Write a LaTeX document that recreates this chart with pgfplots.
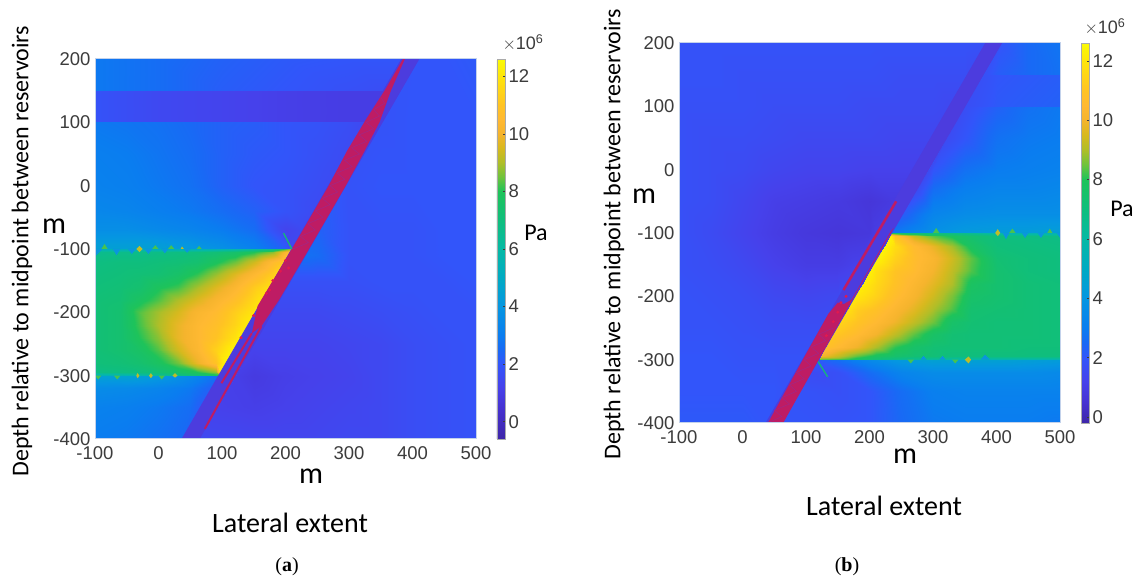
\documentclass[border=0pt]{standalone}
\usepackage{pgfplots}
\pgfplotsset{compat=1.18}
\usepackage{fontspec}
\setmainfont{Liberation Sans}
\newfontfamily\calf{Carlito}
\newfontfamily\serf{Liberation Serif}
\definecolor{tk}{RGB}{60,60,60}
\definecolor{bandc}{RGB}{76,60,222}
\definecolor{bgb}{RGB}{50,85,250}
\definecolor{redc}{RGB}{190,28,100}
\definecolor{redd}{RGB}{160,40,135}
\definecolor{grn}{RGB}{20,185,120}
\definecolor{tg}{RGB}{70,195,80}
\definecolor{ty}{RGB}{190,190,40}
\definecolor{tb}{RGB}{10,150,220}
\pgfplotsset{
 colormap={pa}{rgb255(0)=(62,38,168) rgb255(110)=(70,50,210) rgb255(180)=(70,65,235) rgb255(260)=(50,85,250) rgb255(310)=(25,105,245) rgb255(360)=(10,125,240) rgb255(460)=(5,150,225) rgb255(560)=(0,170,195) rgb255(660)=(5,185,165) rgb255(760)=(15,190,125) rgb255(860)=(30,195,90) rgb255(910)=(110,195,60) rgb255(960)=(175,190,40) rgb255(1010)=(215,185,30) rgb255(1060)=(245,180,45) rgb255(1110)=(255,185,50) rgb255(1160)=(255,195,35) rgb255(1260)=(255,230,10) rgb255(1320)=(250,250,5)},
 colormap={pb}{rgb255(0)=(62,38,168) rgb255(70)=(70,50,210) rgb255(140)=(70,65,235) rgb255(220)=(50,85,250) rgb255(270)=(25,105,245) rgb255(320)=(10,125,240) rgb255(420)=(5,150,225) rgb255(520)=(0,170,195) rgb255(620)=(5,185,165) rgb255(720)=(15,190,125) rgb255(820)=(30,195,90) rgb255(870)=(110,195,60) rgb255(920)=(175,190,40) rgb255(970)=(215,185,30) rgb255(1020)=(245,180,45) rgb255(1070)=(255,185,50) rgb255(1120)=(255,195,35) rgb255(1220)=(255,230,10) rgb255(1280)=(250,250,5)},
 fld/.style={surf,shader=interp,point meta=\thisrowno{2},mesh/cols=#1},
 table/tab/.style={row sep=\\,header=false},
 main/.style={
  scale only axis,width=381pt,height=380pt,
  xmin=-100,xmax=500,ymin=-400,ymax=200,
  xtick={-100,0,...,500},ytick={-400,-300,...,200},
  /pgf/number format/assume math mode=true,
  tick style={draw=none},
  axis line style={draw={rgb,255:red,195;green,210;blue,235},line width=1pt},
  axis on top,
  tick label style={font=\fontsize{18.5}{20}\selectfont,text=tk},
  xticklabel style={yshift=-4pt},
  yticklabel style={xshift=-1pt},
  colorbar,
  colorbar style={
   at={(1.0551,0)},anchor=south west,width=8pt,
   ytick={0,2,...,12},
   ytick style={draw=tk,line width=0.5pt},
   major tick length=2pt,
   tick align=inside,
   axis line style={draw={rgb,255:red,170;green,170;blue,170},line width=0.5pt},
   /pgf/number format/assume math mode=true,
   yticklabel style={font=\fontsize{18.5}{20}\selectfont,text=tk,xshift=0pt},
   ytick pos=right,
  },
 },
}
\begin{document}
\begin{tikzpicture}[x=1pt,y=1pt]
\path[use as bounding box,fill=white] (0,0) rectangle (1137,580);
% ---------------- panel a
\begin{axis}[main,at={(95pt,141pt)},anchor=south west,colormap name=pa,point meta min=-0.6,point meta max=12.6]
\addplot[draw=none,fill=bgb] coordinates {(-100,-400) (500,-400) (500,200) (-100,200) (-100,-400)};
% top strip
\addplot[fld=6] table[tab] {-100 150 2.9\\0 150 2.6\\100 150 2.2\\200 150 2.0\\300 150 1.8\\354 150 1.7\\-100 200 2.9\\0 200 2.6\\100 200 2.3\\200 200 2.1\\300 200 2.0\\383 200 2.0\\};
\addplot[fld=6] table[tab] {-100 100 1.9\\0 100 1.5\\100 100 1.3\\200 100 1.1\\300 100 1.0\\325 100 1.0\\-100 150 1.9\\0 150 1.5\\100 150 1.3\\200 150 1.1\\300 150 1.0\\354 150 1.0\\};
% above reservoir
\addplot[fld=10] table[tab] {
-100 -100 4.5\\-50 -100 4.5\\0 -100 4.5\\50 -100 4.2\\100 -100 3.8\\150 -100 3.2\\200 -100 2.2\\210 -100 1.5\\210 -100 1.5\\210 -100 1.5\\
-100 -70 3.7\\-50 -70 3.7\\0 -70 3.5\\50 -70 3.3\\100 -70 3.0\\150 -70 2.6\\200 -70 1.3\\227 -70 1.5\\227 -70 1.5\\227 -70 1.5\\
-100 -40 3.4\\-50 -40 3.3\\0 -40 3.1\\50 -40 2.9\\100 -40 2.6\\150 -40 2.3\\200 -40 1.9\\245 -40 1.6\\245 -40 1.6\\245 -40 1.6\\
-100 0 3.2\\-50 0 3.1\\0 0 2.9\\50 0 2.7\\100 0 2.3\\150 0 2.0\\200 0 1.9\\250 0 1.7\\268 0 1.6\\268 0 1.6\\
-100 50 3.1\\-50 50 3.0\\0 50 2.8\\50 50 2.6\\100 50 2.3\\150 50 2.1\\200 50 2.0\\250 50 1.8\\297 50 1.6\\297 50 1.6\\
-100 100 2.9\\-50 100 2.8\\0 100 2.7\\50 100 2.5\\100 100 2.3\\150 100 2.2\\200 100 2.0\\250 100 1.9\\300 100 1.7\\325 100 1.5\\};
% reservoir
\addplot[fld=11] table[tab] {
-100 -300 5\\-60 -300 5.2\\-30 -300 5.5\\0 -300 6\\30 -300 6.5\\60 -300 7\\90 -300 7.5\\95 -300 7.8\\95 -300 7.8\\95 -300 7.8\\95 -300 7.8\\
-100 -295 6.8\\-60 -295 6.9\\-30 -295 7\\0 -295 7.2\\30 -295 7.6\\60 -295 8\\90 -295 8.8\\98 -295 12.4\\98 -295 12.4\\98 -295 12.4\\98 -295 12.4\\
-100 -280 7.1\\-60 -280 7.2\\-30 -280 7.4\\0 -280 7.8\\30 -280 8.5\\60 -280 9.8\\90 -280 11\\106 -280 12.4\\106 -280 12.4\\106 -280 12.4\\106 -280 12.4\\
-100 -260 7.2\\-60 -260 7.4\\-30 -260 7.7\\0 -260 8.3\\30 -260 9.4\\60 -260 10.3\\90 -260 11.4\\118 -260 12.4\\118 -260 12.4\\118 -260 12.4\\118 -260 12.4\\
-100 -240 7.2\\-60 -240 7.4\\-30 -240 8.0\\0 -240 8.7\\30 -240 9.8\\60 -240 10.4\\90 -240 11\\120 -240 11.9\\129 -240 12.3\\129 -240 12.3\\129 -240 12.3\\
-100 -220 7.2\\-60 -220 7.4\\-30 -220 8.2\\0 -220 9\\30 -220 9.8\\60 -220 10.4\\90 -220 10.8\\120 -220 11.5\\141 -220 12.2\\141 -220 12.2\\141 -220 12.2\\
-100 -200 7.2\\-60 -200 7.4\\-30 -200 8.3\\0 -200 8.9\\30 -200 9.5\\60 -200 10.2\\90 -200 10.6\\120 -200 11.3\\150 -200 12\\152 -200 12.1\\152 -200 12.1\\
-100 -180 7.2\\-60 -180 7.3\\-30 -180 7.8\\0 -180 8.3\\30 -180 9\\60 -180 9.6\\90 -180 10.2\\120 -180 10.8\\150 -180 11.6\\163 -180 12\\163 -180 12\\
-100 -160 7.1\\-60 -160 7.2\\-30 -160 7.4\\0 -160 7.9\\30 -160 8.2\\60 -160 8.9\\90 -160 9.6\\120 -160 10.3\\150 -160 11.2\\175 -160 11.8\\175 -160 11.8\\
-100 -140 7\\-60 -140 7.1\\-30 -140 7.2\\0 -140 7.3\\30 -140 7.6\\60 -140 8.1\\90 -140 8.8\\120 -140 9.6\\150 -140 10.4\\180 -140 11.3\\187 -140 11.6\\
-100 -120 6.9\\-60 -120 7\\-30 -120 7\\0 -120 7.1\\30 -120 7.2\\60 -120 7.4\\90 -120 7.9\\120 -120 8.5\\150 -120 9.4\\180 -120 10.6\\198 -120 11.2\\
-100 -105 6.6\\-60 -105 6.7\\-30 -105 6.7\\0 -105 6.8\\30 -105 6.9\\60 -105 7\\90 -105 7.2\\120 -105 7.5\\150 -105 8\\180 -105 8.7\\207 -105 10.8\\
-100 -100 5.3\\-60 -100 5.3\\-30 -100 5.3\\0 -100 5.3\\30 -100 5.3\\60 -100 5.4\\90 -100 5.5\\120 -100 5.8\\150 -100 6.2\\180 -100 6.8\\210 -100 9\\};
% below reservoir
\addplot[fld=5] table[tab] {
-100 -400 3.0\\-50 -400 2.9\\0 -400 2.7\\37 -400 2.5\\37 -400 2.5\\
-100 -350 3.2\\-50 -350 3.1\\0 -350 2.9\\50 -350 2.6\\66 -350 2.2\\
-100 -320 3.6\\-50 -320 3.5\\0 -320 3.3\\50 -320 2.9\\83 -320 2.3\\
-100 -300 4.5\\-50 -300 4.6\\0 -300 4.2\\50 -300 3.5\\95 -300 2.6\\};
% right of the fault
\addplot[fld=9] table[tab] {
64 -400 1.5\\150 -400 1.4\\200 -400 1.4\\250 -400 1.4\\300 -400 1.5\\350 -400 1.5\\400 -400 1.7\\450 -400 1.8\\500 -400 1.9\\
93 -350 1.2\\150 -350 1.1\\200 -350 1.2\\250 -350 1.3\\300 -350 1.4\\350 -350 1.5\\400 -350 1.7\\450 -350 1.8\\500 -350 1.9\\
122 -300 1.1\\150 -300 0.9\\200 -300 1.1\\250 -300 1.2\\300 -300 1.3\\350 -300 1.5\\400 -300 1.7\\450 -300 1.8\\500 -300 1.9\\
150 -250 1.3\\150 -250 1.3\\200 -250 1.3\\250 -250 1.3\\300 -250 1.4\\350 -250 1.5\\400 -250 1.7\\450 -250 1.8\\500 -250 1.9\\
179 -200 1.5\\179 -200 1.5\\200 -200 1.5\\250 -200 1.5\\300 -200 1.6\\350 -200 1.7\\400 -200 1.8\\450 -200 1.9\\500 -200 1.9\\
208 -150 1.8\\208 -150 1.8\\208 -150 1.8\\250 -150 1.8\\300 -150 1.8\\350 -150 1.9\\400 -150 1.9\\450 -150 1.9\\500 -150 2\\
231 -110 2.7\\231 -110 2.7\\231 -110 2.7\\250 -110 2.6\\300 -110 1.9\\350 -110 1.9\\400 -110 1.9\\450 -110 2\\500 -110 2\\
254 -70 2.3\\254 -70 2.3\\254 -70 2.3\\254 -70 2.3\\300 -70 1.9\\350 -70 1.9\\400 -70 1.9\\450 -70 2\\500 -70 2\\
295 0 1.9\\295 0 1.9\\295 0 1.9\\295 0 1.9\\300 0 1.9\\350 0 2\\400 0 2\\450 0 2\\500 0 2\\
352 100 1.9\\352 100 1.9\\352 100 1.9\\352 100 1.9\\352 100 1.9\\352 100 1.9\\400 100 2\\450 100 2\\500 100 2\\
410 200 2\\410 200 2\\410 200 2\\410 200 2\\410 200 2\\410 200 2\\410 200 2\\450 200 2\\500 200 2.1\\};
% fault band
\addplot[draw=bandc,line width=0.8pt,fill=bandc] coordinates {(37,-400) (64,-400) (410,200) (383,200) (37,-400)};
% damage zone
\addplot[draw=none,fill=redc] coordinates {(385,200) (388,200) (366,150) (348,100) (322,50) (295,0) (237,-100) (190,-180) (162,-222) (147,-233) (156,-190) (210,-100) (268,0) (297,55) (327,105) (356,150) (385,200)};
\addplot[redd,line width=0.5pt] coordinates {(212,-100) (236,-90) (223.5,-80) (247,-70) (235,-60) (259,-50) (247,-40) (270,-30) (258,-20) (282,-10) (270,0) (293.5,10) (281,20) (305,30) (293,40) (316.5,50) (304,60) (328,70) (316,80) (339,90) (327,100) (348,110) (339,120) (356,130) (350,140)};
\addplot[redc,line width=2pt] coordinates {(99,-312) (147,-233)};
\addplot[redc,line width=2pt] coordinates {(73,-384) (162,-222)};
\addplot[only marks,mark=*,mark size=1.3pt,color={rgb,255:red,225;green,25;blue,80}] coordinates {(200,-118) (192,-135) (180,-150) (170,-170) (150,-205) (130,-240) (175,-165) (205,-130)};
% stress-path tick
\addplot[grn,line width=1.3pt] coordinates {(197,-75) (210,-100)};
% teeth on the reservoir edges
\addplot[draw=none,fill=tb,unbounded coords=jump] coordinates {(-100,-100) (-100,-112) (-88,-100) (nan,nan) (-72,-100) (-66,-110) (-60,-100) (nan,nan) (-48,-100) (-42,-108) (-36,-100) (nan,nan) (-22,-100) (-16,-108) (-10,-100) (nan,nan) (5,-100) (10,-107) (15,-100) (nan,nan) (40,-100) (45,-106) (50,-100)};
\addplot[draw=none,fill=tg,unbounded coords=jump] coordinates {(-90,-100) (-85,-92) (-80,-100) (nan,nan) (-10,-100) (-5,-94) (0,-100) (nan,nan) (15,-100) (20,-94) (25,-100) (nan,nan) (60,-100) (64,-95) (68,-100) (nan,nan) (-100,-300) (-95,-306) (-90,-300) (nan,nan) (-70,-300) (-65,-306) (-60,-300) (nan,nan) (0,-300) (5,-306) (10,-300)};
\addplot[draw=none,fill=ty,unbounded coords=jump] coordinates {(-35,-100) (-30,-95) (-25,-100) (-30,-105) (-35,-100) (nan,nan) (35,-100) (37,-96) (40,-100) (nan,nan) (-35,-300) (-33,-296) (-30,-300) (-33,-304) (-35,-300) (nan,nan) (-15,-300) (-12,-296) (-9,-300) (-12,-304) (-15,-300) (nan,nan) (22,-300) (26,-296) (30,-300) (26,-303) (22,-300)};
\end{axis}
% ---------------- panel b
\begin{axis}[main,at={(679pt,157pt)},anchor=south west,colormap name=pb,point meta min=-0.2,point meta max=12.6]
\addplot[draw=none,fill=bgb] coordinates {(-100,-400) (500,-400) (500,200) (-100,200) (-100,-400)};
% left of the fault
\addplot[fld=11] table[tab] {
-100 -400 2.1\\-50 -400 2.1\\0 -400 2.1\\37 -400 2.0\\37 -400 2.0\\37 -400 2.0\\37 -400 2.0\\37 -400 2.0\\37 -400 2.0\\37 -400 2.0\\37 -400 2.0\\
-100 -350 2.0\\-50 -350 2.0\\0 -350 2.0\\50 -350 2.0\\66 -350 1.9\\66 -350 1.9\\66 -350 1.9\\66 -350 1.9\\66 -350 1.9\\66 -350 1.9\\66 -350 1.9\\
-100 -300 2\\-50 -300 2\\0 -300 1.9\\50 -300 1.9\\95 -300 1.9\\95 -300 1.9\\95 -300 1.9\\95 -300 1.9\\95 -300 1.9\\95 -300 1.9\\95 -300 1.9\\
-100 -250 1.9\\-50 -250 1.9\\0 -250 1.8\\50 -250 1.7\\100 -250 1.7\\123 -250 1.7\\123 -250 1.7\\123 -250 1.7\\123 -250 1.7\\123 -250 1.7\\123 -250 1.7\\
-100 -200 1.9\\-50 -200 1.8\\0 -200 1.7\\50 -200 1.5\\100 -200 1.4\\150 -200 1.5\\152 -200 1.6\\152 -200 1.6\\152 -200 1.6\\152 -200 1.6\\152 -200 1.6\\
-100 -150 1.8\\-50 -150 1.7\\0 -150 1.5\\50 -150 1.2\\100 -150 1.0\\150 -150 1.0\\181 -150 1.2\\181 -150 1.2\\181 -150 1.2\\181 -150 1.2\\181 -150 1.2\\
-100 -100 1.8\\-50 -100 1.6\\0 -100 1.3\\50 -100 1.0\\100 -100 0.8\\150 -100 0.7\\200 -100 0.8\\210 -100 1.0\\210 -100 1.0\\210 -100 1.0\\210 -100 1.0\\
-100 -50 1.8\\-50 -50 1.7\\0 -50 1.4\\50 -50 1.1\\100 -50 1.0\\150 -50 0.9\\200 -50 0.7\\239 -50 0.9\\239 -50 0.9\\239 -50 0.9\\239 -50 0.9\\
-100 0 1.8\\-50 0 1.7\\0 0 1.6\\50 0 1.4\\100 0 1.3\\150 0 1.3\\200 0 1.2\\250 0 1.2\\268 0 1.2\\268 0 1.2\\268 0 1.2\\
-100 50 1.8\\-50 50 1.7\\0 50 1.7\\50 50 1.6\\100 50 1.5\\150 50 1.5\\200 50 1.5\\250 50 1.4\\297 50 1.4\\297 50 1.4\\297 50 1.4\\
-100 100 1.8\\-50 100 1.8\\0 100 1.8\\50 100 1.7\\100 100 1.7\\150 100 1.7\\200 100 1.6\\250 100 1.6\\300 100 1.6\\326 100 1.5\\326 100 1.5\\
-100 150 1.9\\-50 150 1.9\\0 150 1.8\\50 150 1.8\\100 150 1.8\\150 150 1.8\\200 150 1.8\\250 150 1.7\\300 150 1.7\\350 150 1.7\\355 150 1.6\\
-100 200 1.9\\-50 200 1.9\\0 200 1.9\\50 200 1.9\\100 200 1.9\\150 200 1.9\\200 200 1.9\\250 200 1.9\\300 200 1.9\\350 200 1.9\\383 200 1.8\\};
% above reservoir
\addplot[fld=6] table[tab] {
235 -100 2.8\\300 -100 3.8\\350 -100 4.2\\400 -100 4.3\\450 -100 4.3\\500 -100 4.4\\
252 -70 2.2\\300 -70 3.3\\350 -70 3.6\\400 -70 3.7\\450 -70 3.7\\500 -70 3.7\\
275 -30 1.6\\300 -30 2.6\\350 -30 3.1\\400 -30 3.3\\450 -30 3.3\\500 -30 3.4\\
293 0 1.6\\300 0 2.0\\350 0 2.7\\400 0 3.0\\450 0 3.1\\500 0 3.2\\
322 50 1.6\\322 50 1.6\\350 50 2.0\\400 50 2.7\\450 50 2.9\\500 50 3.0\\
351 100 1.7\\351 100 1.7\\351 100 1.7\\400 100 2.3\\450 100 2.7\\500 100 2.9\\};
\addplot[fld=6] table[tab] {
351 100 1.7\\351 100 1.7\\351 100 1.7\\400 100 2.1\\450 100 2.2\\500 100 2.3\\
380 150 1.8\\380 150 1.8\\380 150 1.8\\400 150 2.0\\450 150 2.1\\500 150 2.2\\};
\addplot[fld=6] table[tab] {
380 150 1.8\\380 150 1.8\\380 150 1.8\\400 150 2.2\\450 150 2.5\\500 150 2.7\\
408 200 2.0\\408 200 2.0\\408 200 2.0\\408 200 2.0\\450 200 2.5\\500 200 2.8\\};
% reservoir
\addplot[fld=11] table[tab] {
120 -300 8\\180 -300 7.5\\210 -300 7\\240 -300 6.6\\270 -300 6.2\\300 -300 6\\330 -300 5.8\\360 -300 5.6\\400 -300 5.5\\450 -300 5.5\\500 -300 5.5\\
123 -295 10\\180 -295 8.4\\210 -295 7.8\\240 -295 7.5\\270 -295 7.3\\300 -295 7.2\\330 -295 7\\360 -295 7\\400 -295 7\\450 -295 7\\500 -295 7\\
131 -280 10.9\\180 -280 9.9\\210 -280 9\\240 -280 8.1\\270 -280 7.6\\300 -280 7.3\\330 -280 7.2\\360 -280 7.2\\400 -280 7.2\\450 -280 7.1\\500 -280 7.1\\
143 -260 11.2\\180 -260 10.6\\210 -260 10\\240 -260 9.2\\270 -260 8.4\\300 -260 7.7\\330 -260 7.3\\360 -260 7.2\\400 -260 7.2\\450 -260 7.2\\500 -260 7.1\\
154 -240 11.5\\180 -240 11\\210 -240 10.5\\240 -240 9.9\\270 -240 9.2\\300 -240 8.5\\330 -240 7.6\\360 -240 7.3\\400 -240 7.2\\450 -240 7.2\\500 -240 7.1\\
166 -220 11.8\\180 -220 11.3\\210 -220 10.9\\240 -220 10.3\\270 -220 9.7\\300 -220 9\\330 -220 8.3\\360 -220 7.4\\400 -220 7.3\\450 -220 7.2\\500 -220 7.1\\
177 -200 12.1\\180 -200 12\\210 -200 11.4\\240 -200 10.7\\270 -200 10.1\\300 -200 9.4\\330 -200 8.6\\360 -200 7.6\\400 -200 7.4\\450 -200 7.2\\500 -200 7.1\\
189 -180 12.2\\189 -180 12.2\\210 -180 11.6\\240 -180 10.9\\270 -180 10.3\\300 -180 9.7\\330 -180 9\\360 -180 7.8\\400 -180 7.4\\450 -180 7.2\\500 -180 7.1\\
200 -160 12.3\\200 -160 12.3\\210 -160 11.8\\240 -160 11\\270 -160 10.6\\300 -160 10\\330 -160 9.2\\360 -160 8.3\\400 -160 7.4\\450 -160 7.1\\500 -160 7\\
212 -140 12.4\\212 -140 12.4\\212 -140 12.4\\240 -140 11.4\\270 -140 10.7\\300 -140 10.2\\330 -140 9.4\\360 -140 8.4\\400 -140 7.3\\450 -140 7.1\\500 -140 7\\
224 -120 12.4\\224 -120 12.4\\224 -120 12.4\\240 -120 11.7\\270 -120 10.6\\300 -120 9.8\\330 -120 8.9\\360 -120 7.8\\400 -120 7.1\\450 -120 7\\500 -120 6.9\\
232 -105 12.4\\232 -105 12.4\\232 -105 12.4\\240 -105 11\\270 -105 9.3\\300 -105 8.4\\330 -105 7.9\\360 -105 7.4\\400 -105 7\\450 -105 6.9\\500 -105 6.8\\
235 -100 8\\235 -100 8\\235 -100 8\\240 -100 7.6\\270 -100 7.2\\300 -100 7\\330 -100 6.8\\360 -100 6.5\\400 -100 5.8\\450 -100 5.6\\500 -100 5.5\\};
% below reservoir
\addplot[fld=9] table[tab] {
62 -400 2\\150 -400 1.9\\200 -400 2\\250 -400 2.5\\300 -400 2.9\\350 -400 3\\400 -400 3\\450 -400 3\\500 -400 2.9\\
91 -350 1.9\\150 -350 1.8\\200 -350 2\\250 -350 2.6\\300 -350 3.1\\350 -350 3.2\\400 -350 3.2\\450 -350 3.2\\500 -350 3.2\\
108 -320 1.6\\150 -320 1.8\\200 -320 2.6\\250 -320 3.3\\300 -320 3.6\\350 -320 3.6\\400 -320 3.6\\450 -320 3.6\\500 -320 3.5\\
120 -300 2.2\\150 -300 2.6\\200 -300 3.5\\250 -300 4.2\\300 -300 4.5\\350 -300 4.5\\400 -300 4.5\\450 -300 4.4\\500 -300 4.3\\};
% fault band
\addplot[draw=bandc,line width=0.8pt,fill=bandc] coordinates {(37,-400) (62,-400) (408,200) (383,200) (37,-400)};
% damage zone
\addplot[draw=none,fill=redc] coordinates {(40,-400) (64,-400) (120,-300) (176,-200) (238,-92) (233,-98) (172,-205) (160,-212) (150,-210) (135,-228) (95,-300) (40,-400)};
\addplot[redd,line width=0.5pt] coordinates {(39,-400) (62,-390) (50,-380) (74,-370) (62,-360) (85,-350) (74,-340) (97,-330) (85,-320) (108,-310) (97,-300) (120,-290) (108,-280) (131,-270) (120,-260) (143,-250)};
\addplot[redc,line width=2.5pt] coordinates {(159,-190) (242,-50)};
\addplot[only marks,mark=*,mark size=1.3pt,color={rgb,255:red,225;green,25;blue,80}] coordinates {(150,-225) (143,-240) (155,-210) (163,-200) (132,-262)};
% stress-path tick
\addplot[grn,line width=1.3pt] coordinates {(119,-303) (134,-327)};
% teeth
\addplot[draw=none,fill=tb,unbounded coords=jump] coordinates {(410,-100) (415,-110) (420,-100) (nan,nan) (440,-100) (445,-108) (450,-100) (nan,nan) (465,-100) (470,-108) (475,-100) (nan,nan) (495,-100) (500,-108) (500,-100) (nan,nan) (280,-300) (285,-294) (290,-300) (nan,nan) (310,-300) (315,-294) (320,-300) (nan,nan) (375,-300) (382,-292) (390,-300)};
\addplot[draw=none,fill=tg,unbounded coords=jump] coordinates {(300,-100) (305,-92) (310,-100) (nan,nan) (420,-100) (425,-93) (430,-100) (nan,nan) (480,-100) (484,-93) (488,-100) (nan,nan) (260,-300) (265,-306) (270,-300) (nan,nan) (330,-300) (335,-306) (340,-300)};
\addplot[draw=none,fill=ty,unbounded coords=jump] coordinates {(398,-100) (402,-94) (406,-100) (402,-105) (398,-100) (nan,nan) (350,-300) (356,-295) (360,-300) (356,-306) (350,-300)};
\end{axis}
% ---------------- texts
\node[rotate=90,font=\calf\fontsize{24}{26}\selectfont] at (22,329) {Depth relative to midpoint between reservoirs};
\node[rotate=90,font=\calf\fontsize{24}{26}\selectfont] at (614,346) {Depth relative to midpoint between reservoirs};
\node[font=\calf\fontsize{28}{30}\selectfont] at (290,57) {Lateral extent};
\node[font=\calf\fontsize{28}{30}\selectfont] at (884,74) {Lateral extent};
\node[font=\calf\fontsize{30}{32}\selectfont] at (54,354) {m};
\node[font=\calf\fontsize{30}{32}\selectfont] at (311,104) {m};
\node[font=\calf\fontsize{30}{32}\selectfont] at (644,384) {m};
\node[font=\calf\fontsize{30}{32}\selectfont] at (905,124) {m};
\node[font=\calf\fontsize{24}{26}\selectfont] at (536,347) {Pa};
\node[font=\calf\fontsize{24}{26}\selectfont] at (1122,371) {Pa};
\node[font=\fontsize{18}{20}\selectfont,text=tk] at (523,537) {$\times$10\textsuperscript{6}};
\node[font=\fontsize{18}{20}\selectfont,text=tk] at (1105,553) {$\times$10\textsuperscript{6}};
\node[font=\serf\fontsize{20}{22}\selectfont] at (287,13) {(\textbf{a})};
\node[font=\serf\fontsize{20}{22}\selectfont] at (847,13) {(\textbf{b})};
\end{tikzpicture}
\end{document}
